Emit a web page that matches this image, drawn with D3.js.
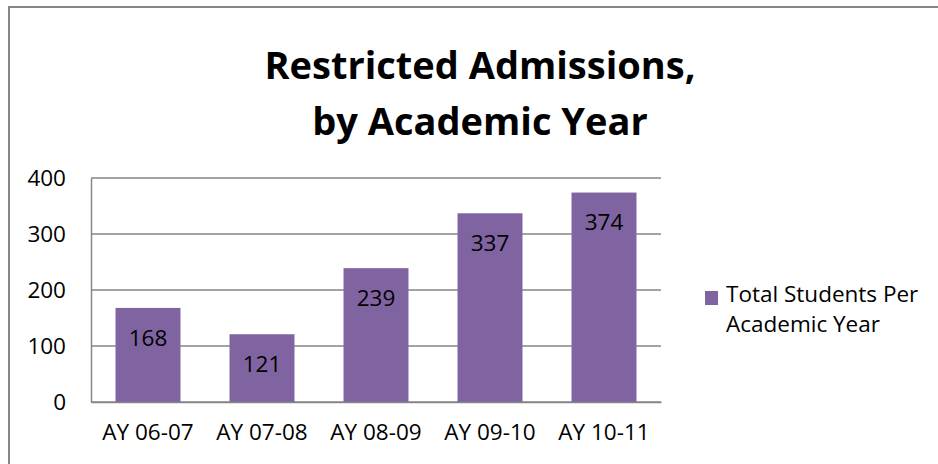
<!DOCTYPE html>
<html lang="en">
<head>
<meta charset="UTF-8">
<script src="https://d3js.org/d3.v7.min.js"></script>
<style>
  html,body{margin:0;padding:0;background:#fff;}
  svg text{font-family:"Open Sans",sans-serif;fill:#000;}
</style>
</head>
<body>
<div id="chart"></div>
<script>
var years = ["AY 06-07", "AY 07-08", "AY 08-09", "AY 09-10", "AY 10-11"];
var students = [168, 121, 239, 337, 374];
var yTicks = [0, 100, 200, 300, 400];
var titleLines = ["Restricted Admissions,", "by Academic Year"];
var legendLines = ["Total Students Per", "Academic Year"];

var width = 938, height = 464;
var barColor = "#8064a2", lineColor = "#868686";

var svg = d3.select("#chart").append("svg")
    .attr("width", width)
    .attr("height", height);

// chart frame (runs off the right and bottom edge)
svg.append("rect")
    .attr("x", 9).attr("y", 7)
    .attr("width", 1000).attr("height", 1000)
    .attr("fill", "none")
    .attr("stroke", lineColor)
    .attr("stroke-width", 2);

// title
svg.append("g").selectAll("text")
    .data(titleLines)
    .enter().append("text")
    .attr("x", 480)
    .attr("y", function(d, i) { return 79 + i * 56; })
    .attr("text-anchor", "middle")
    .style("font-size", "38px")
    .style("font-weight", "bold")
    .text(function(d) { return d; });

var plot = {left: 91, right: 661, top: 178, bottom: 402};

var x = d3.scaleBand()
    .domain(years)
    .range([plot.left, plot.right])
    .paddingInner(0.43)
    .paddingOuter(0.215);

var y = d3.scaleLinear()
    .domain([0, 400])
    .range([plot.bottom, plot.top]);

// gridlines
svg.append("g").selectAll("line")
    .data(yTicks)
    .enter().append("line")
    .attr("x1", plot.left).attr("x2", plot.right)
    .attr("y1", function(d) { return y(d); })
    .attr("y2", function(d) { return y(d); })
    .attr("stroke", lineColor)
    .attr("stroke-width", 1.5);

// y axis
var yAxis = svg.append("g")
    .attr("transform", "translate(" + plot.left + ",0)")
    .call(d3.axisLeft(y).tickValues(yTicks).tickSize(0).tickPadding(25));
yAxis.select(".domain").attr("stroke", lineColor).attr("stroke-width", 1.5);
yAxis.selectAll("text").style("font-size", "22.5px").attr("fill", "#000");

// bars
svg.append("g").selectAll("rect")
    .data(students)
    .enter().append("rect")
    .attr("x", function(d, i) { return x(years[i]); })
    .attr("y", function(d) { return y(d); })
    .attr("width", x.bandwidth())
    .attr("height", function(d) { return plot.bottom - y(d); })
    .attr("fill", barColor);

// value labels
svg.append("g").selectAll("text")
    .data(students)
    .enter().append("text")
    .attr("x", function(d, i) { return x(years[i]) + x.bandwidth() / 2; })
    .attr("y", function(d) { return y(d) + 30; })
    .attr("dy", "0.35em")
    .attr("text-anchor", "middle")
    .style("font-size", "22.5px")
    .text(function(d) { return d; });

// x axis
var xAxis = svg.append("g")
    .attr("transform", "translate(0," + plot.bottom + ")")
    .call(d3.axisBottom(x).tickSize(0).tickPadding(22));
xAxis.select(".domain").attr("stroke", lineColor).attr("stroke-width", 1.5);
xAxis.selectAll("text").style("font-size", "22.5px").attr("fill", "#000");

// legend
var legend = svg.append("g");
legend.append("rect")
    .attr("x", 705).attr("y", 291)
    .attr("width", 13).attr("height", 14)
    .attr("fill", barColor);
legend.selectAll("text")
    .data(legendLines)
    .enter().append("text")
    .attr("x", 726)
    .attr("y", function(d, i) { return 302 + i * 30; })
    .style("font-size", "22.5px")
    .text(function(d) { return d; });
</script>
</body>
</html>
